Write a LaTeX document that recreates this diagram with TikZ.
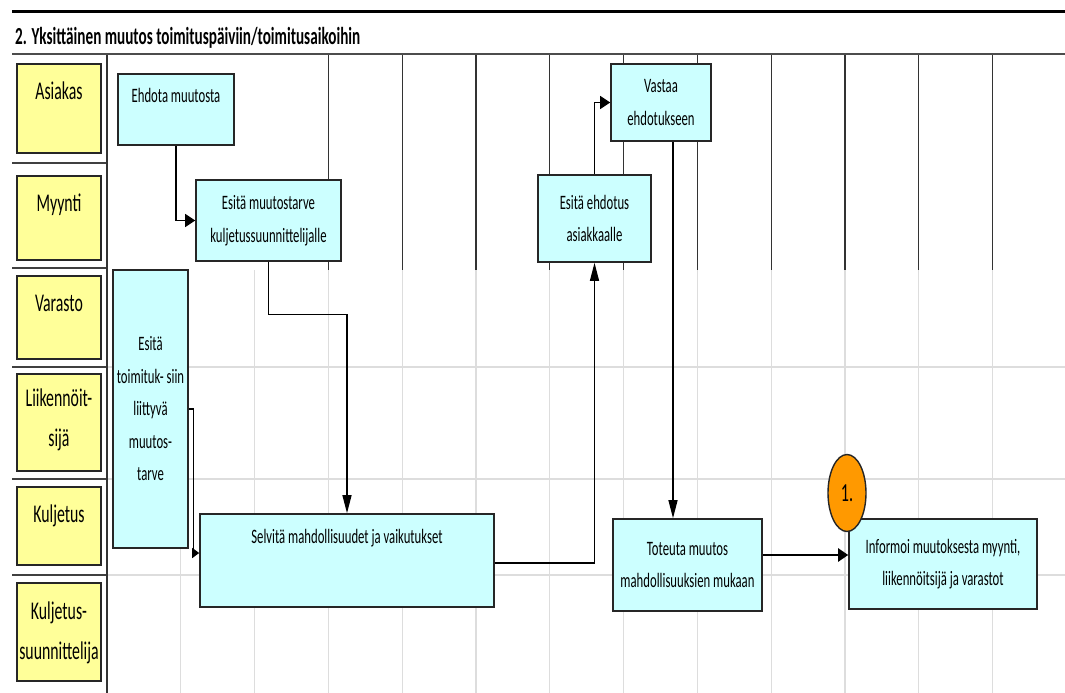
\documentclass[tikz,border=0pt]{standalone}
\usepackage{fontspec}
\setmainfont{Carlito}[FakeStretch=0.62]
\usetikzlibrary{arrows.meta,shapes.geometric,calc,shadows}
\definecolor{laneyellow}{HTML}{FFFF99}
\definecolor{boxcyan}{HTML}{CCFFFF}
\definecolor{markorange}{HTML}{FF9900}
\definecolor{gridlight}{HTML}{DDDDDD}
\definecolor{griddark}{HTML}{333333}
\newcommand{\bxfont}{\fontsize{20.5}{32.5}\selectfont}
\newcommand{\lnfont}{\fontsize{25.5}{39.5}\selectfont}
\newcommand{\ttlfont}{\fontsize{24.5}{30}\selectfont\bfseries}
\begin{document}
\begin{tikzpicture}[x=1pt,y=-1pt,
  boxshadow/.style={drop shadow={shadow xshift=0.6pt, shadow yshift=-1.4pt, opacity=0.45, fill=black}},
  procbox/.style={draw=black!85, line width=1.6pt, fill=boxcyan, inner sep=2pt, align=center, font=\bxfont, text=black, boxshadow},
  lanebox/.style={draw=black!85, line width=1.8pt, fill=laneyellow, minimum width=84pt, inner sep=0pt, boxshadow},
  toptext/.style 2 args={label={[anchor=base, yshift=-#1pt, font=\bxfont, align=center, inner sep=0pt]north:{#2}}},
  lanetext/.style 2 args={label={[anchor=base, yshift=-#1pt, font=\lnfont, align=center, inner sep=0pt]north:{#2}}},
  conn/.style={draw=black, line width=1.2pt},
  harr/.style={-{Triangle[length=10pt,width=13pt]}},
  varr/.style={-{Triangle[length=18pt,width=9pt]}},
  sarr/.style={-{Triangle[length=7pt,width=10pt]}},
]
\useasboundingbox (0,0) rectangle (1065,693);
\fill[white] (0,0) rectangle (1065,693);

% grid
\foreach \i in {3,...,12}
  \draw[griddark, line width=1.2pt] ({107+73.8*\i},54) -- ({107+73.8*\i},270);
\foreach \i in {1,...,12}
  \draw[gridlight, line width=1.2pt] ({107+73.8*\i},270) -- ({107+73.8*\i},693);
\foreach \y in {367,479,575}
  \draw[gridlight, line width=2pt] (107,\y) -- (1065,\y);
\foreach \y in {163,268,367,479,575}
  \draw[black!75, line width=2pt] (12,\y) -- (107,\y);
\draw[black!80, line width=1.5pt] (107,54) -- (107,693);
\draw[black, line width=3pt] (12,12) -- (1065,12);
\draw[black!70, line width=2pt] (12,54) -- (1065,54);

% title
\node[anchor=base west, inner sep=0pt, font=\ttlfont] (title) at (15,45) {2. Yksittäinen muutos toimituspäiviin/toimitusaikoihin};

% lanes
\node[lanebox, minimum height=89pt, lanetext={36}{Asiakas}] (lAsiakas) at (59,108.5) {};
\node[lanebox, minimum height=84pt, lanetext={36}{Myynti}] (lMyynti) at (59,218) {};
\node[lanebox, minimum height=83pt, lanetext={36}{Varasto}] (lVarasto) at (59,317.5) {};
\node[lanebox, minimum height=97pt, lanetext={73}{Liikennöit-\\sijä}] (lLiik) at (59,422.5) {};
\node[lanebox, minimum height=78pt, lanetext={36}{Kuljetus}] (lKulj) at (59,526) {};
\node[lanebox, minimum height=98pt, lanetext={77}{Kuljetus-\\suunnittelija}] (lKS) at (59,632) {};

% process boxes
\node[procbox, minimum width=116pt, minimum height=71pt, toptext={29.5}{Ehdota muutosta}] (ehdota) at (176,109.5) {};
\node[procbox, minimum width=145pt, minimum height=81pt] (muutostarve) at (268.5,220.5) {Esitä muutostarve\\kuljetussuunnittelijalle};
\node[procbox, minimum width=75pt, minimum height=278pt] (toimituk) at (150.5,409) {Esitä\\toimituk- siin\\liittyvä\\muutos-\\tarve};
\node[procbox, minimum width=294pt, minimum height=93pt, toptext={30}{Selvitä mahdollisuudet ja vaikutukset}] (selvita) at (347,560.5) {};
\node[procbox, minimum width=113pt, minimum height=87pt] (ehdotus) at (594.5,218.5) {Esitä ehdotus\\asiakkaalle};
\node[procbox, minimum width=100pt, minimum height=77pt] (vastaa) at (661,102.5) {Vastaa\\ehdotukseen};
\node[procbox, minimum width=149pt, minimum height=92pt] (toteuta) at (687.5,565) {Toteuta muutos\\mahdollisuuksien mukaan};
\node[procbox, minimum width=188pt, minimum height=90pt] (informoi) at (943,564) {Informoi muutoksesta myynti,\\liikennöitsijä ja varastot};

% connectors
\draw[conn, harr] (ehdota.south) |- (muutostarve.west);
\draw[conn, varr] (muutostarve.south) -- ++(0,53) -| (selvita.north);
\draw[conn, sarr] (toimituk.east) -- ++(5,0) |- ($(selvita.west)+(0,-7.5)$);
\draw[conn, varr] ($(selvita.east)+(0,2.5)$) -| (ehdotus.south);
\draw[conn, harr] (ehdotus.north) |- (vastaa.west);
\coordinate (f1) at ($(vastaa.south)+(12,0)$);
\draw[conn, varr] (f1) -- (f1 |- toteuta.north);
\coordinate (g1) at ($(toteuta.east)+(0,-10)$);
\draw[conn, harr, line width=2.2pt] (g1) -- (g1 -| informoi.west);

% marker
\node[ellipse, draw=black!85, line width=1.4pt, fill=markorange, minimum width=38pt, minimum height=77pt, inner sep=0pt, font=\fontsize{26}{26}\selectfont] (mark) at (847,493) {1.};
\end{tikzpicture}
\end{document}
